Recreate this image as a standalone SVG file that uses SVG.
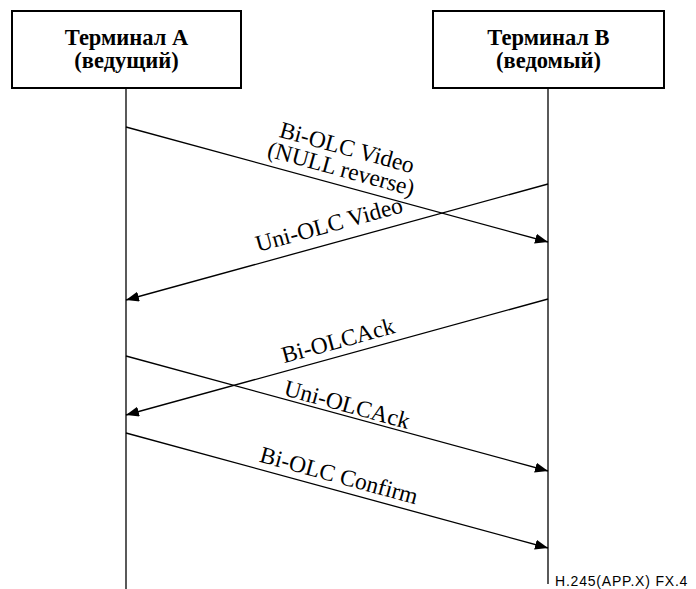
<svg xmlns="http://www.w3.org/2000/svg" width="696" height="589" viewBox="0 0 696 589">
<style>
.box{fill:#fff;stroke:#000;stroke-width:2}
.title{font-family:"Liberation Serif","Times New Roman",serif;font-weight:bold;font-size:22.5px;text-anchor:middle;fill:#000}
.life{stroke:#000;stroke-width:1.3;fill:none}
.msg{stroke:#000;stroke-width:1.3;fill:none;marker-end:url(#ah)}
.lbl{font-family:"Liberation Serif","Times New Roman",serif;font-size:23.5px;text-anchor:middle;fill:#000}
.foot{font-family:"Liberation Sans",Arial,sans-serif;font-size:14px;letter-spacing:0.8px;fill:#000}
</style>
<defs>
<marker id="ah" markerUnits="userSpaceOnUse" markerWidth="14" markerHeight="11" refX="13" refY="5" orient="auto">
<path d="M0,0 L13,5 L0,10 z" fill="#000"/>
</marker>
</defs>
<rect width="696" height="589" fill="#fff"/>
<g id="lifelines">
<line class="life" x1="126" y1="88" x2="126" y2="589"/>
<line class="life" x1="548" y1="88" x2="548" y2="584"/>
</g>
<g id="terminalA">
<rect class="box" x="12" y="11" width="229" height="77"/>
<text class="title" x="126.5" y="45">Терминал A</text>
<text class="title" x="126.5" y="68">(ведущий)</text>
</g>
<g id="terminalB">
<rect class="box" x="433" y="11" width="231" height="77"/>
<text class="title" x="548.5" y="45">Терминал B</text>
<text class="title" x="548.5" y="68">(ведомый)</text>
</g>
<g id="connectors">
<line class="msg" x1="126" y1="127" x2="548" y2="242"/>
<line class="msg" x1="548" y1="184" x2="126" y2="300"/>
<line class="msg" x1="548" y1="299" x2="126" y2="415"/>
<line class="msg" x1="126" y1="356" x2="548" y2="471"/>
<line class="msg" x1="126" y1="433" x2="548" y2="548"/>
</g>
<g id="labels">
<text class="lbl" transform="translate(345,155) rotate(15.3)"><tspan x="0" y="0">Bi-OLC Video</tspan><tspan x="0" y="22">(NULL reverse)</tspan></text>
<text class="lbl" transform="translate(331,232) rotate(-15.3)">Uni-OLC Video</text>
<text class="lbl" transform="translate(340,348) rotate(-15.3)">Bi-OLCAck</text>
<text class="lbl" transform="translate(345,412) rotate(15.3)">Uni-OLCAck</text>
<text class="lbl" transform="translate(337,483) rotate(15.3)">Bi-OLC Confirm</text>
</g>
<text class="foot" x="555" y="586">H.245(APP.X)  FX.4</text>
</svg>
